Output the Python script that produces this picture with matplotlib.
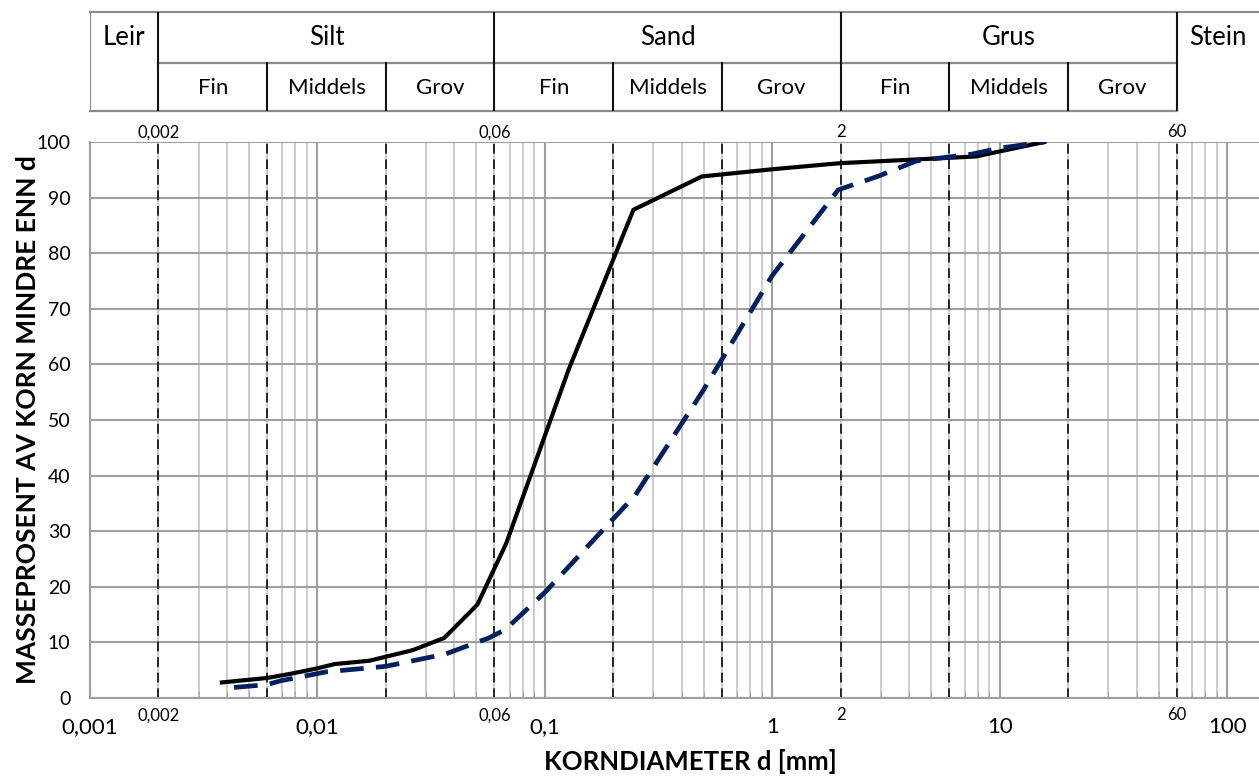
import matplotlib
matplotlib.use("Agg")
import matplotlib.pyplot as plt
import matplotlib.transforms as mtransforms
import numpy as np

plt.rcParams["font.family"] = ["Lato", "DejaVu Sans"]

# kornfordelingskurver (lest av figuren)
svart_d = [0.0038, 0.006, 0.0075, 0.0099, 0.0119, 0.0169, 0.0262, 0.0361, 0.0505,
           0.0676, 0.127, 0.245, 0.49, 1.0, 2.0, 4.0, 7.85, 15.7]
svart_p = [2.8, 3.6, 4.3, 5.3, 6.1, 6.7, 8.6, 10.8, 16.8,
           27.8, 59.0, 87.8, 93.8, 95.1, 96.2, 96.8, 97.4, 100]

blaa_d = [0.0043, 0.006, 0.0069, 0.0092, 0.0109, 0.0148, 0.02, 0.0365, 0.0567, 0.067,
          0.1, 0.25, 0.5, 1.0, 1.95, 2.9, 4.3, 7.5, 10.0, 15.7]
blaa_p = [1.9, 2.4, 3.1, 4.1, 4.7, 5.2, 5.7, 7.9, 10.8, 12.3,
          19.0, 36.5, 55.5, 76.0, 91.4, 93.8, 96.6, 97.8, 98.9, 100]

# akser og grenser
x_min, x_max = 0.001, 138
dekader = [0.001, 0.01, 0.1, 1, 10, 100]
dekade_tekst = ["0,001", "0,01", "0,1", "1", "10", "100"]
y_ticks = list(range(0, 101, 10))

grenser = [0.002, 0.006, 0.02, 0.06, 0.2, 0.6, 2, 6, 20, 60]
hovedgrenser = [0.002, 0.06, 2, 60]
hovedgrense_tekst = ["0,002", "0,06", "2", "60"]

# tabell over jordarter
hovedklasser = ["Leir", "Silt", "Sand", "Grus", "Stein"]
hovedklasse_fra = [0.001, 0.002, 0.06, 2, 60]
hovedklasse_til = [0.002, 0.06, 2, 60, x_max]
underklasser = ["Fin", "Middels", "Grov"]

W, H = 1259, 776
fig = plt.figure(figsize=(W / 100, H / 100), dpi=100)

def fx(px):
    return px / W

def fy(py):
    return 1 - py / H

ax = fig.add_axes([fx(90), fy(698), fx(W) - fx(90), fy(142) - fy(698)])
ax.set_xscale("log")
ax.set_xlim(x_min, x_max)
ax.set_ylim(0, 100)

ax.set_xticks(dekader)
ax.set_xticklabels(dekade_tekst)
ax.xaxis.set_minor_locator(matplotlib.ticker.LogLocator(base=10, subs=np.arange(2, 10)))
ax.xaxis.set_minor_formatter(matplotlib.ticker.NullFormatter())
ax.set_yticks(y_ticks)
ax.set_yticklabels([str(v) for v in y_ticks])

ax.grid(which="major", axis="both", color="#9f9f9f", lw=1.5, zorder=0)
ax.grid(which="minor", axis="x", color="#c3c3c3", lw=1.2, zorder=0)
ax.set_axisbelow(True)
ax.tick_params(axis="x", which="both", direction="in", length=5, color="#9f9f9f",
               labelsize=16, pad=14)
ax.tick_params(axis="y", which="both", length=0, labelsize=14, pad=14)
for s in ["top", "right"]:
    ax.spines[s].set_visible(False)
for s in ["left", "bottom"]:
    ax.spines[s].set_color("#9f9f9f")
    ax.spines[s].set_linewidth(1.5)

for g in grenser:
    ax.axvline(g, color="#262626", lw=1.4, ls=(0, (5, 3)), zorder=1)

trans = mtransforms.blended_transform_factory(ax.transData, ax.transAxes)
for g, t in zip(hovedgrenser, hovedgrense_tekst):
    ax.text(g, 1.003, t, transform=trans, ha="center", va="bottom", fontsize=12)
    ax.text(g, -0.017, t, transform=trans, ha="center", va="top", fontsize=12)

ax.plot(svart_d, svart_p, color="black", lw=3.0, zorder=3, solid_joinstyle="miter")
ax.plot(blaa_d, blaa_p, color="#002060", lw=3.4, ls=(0, (5.0, 2.6)), zorder=4)

fig.text(fx(690), fy(762), "KORNDIAMETER d [mm]", ha="center", va="center",
         fontsize=18.5, fontweight="bold")
fig.text(fx(28), fy(420), "MASSEPROSENT AV KORN MINDRE ENN d", ha="center",
         va="center", rotation=90, fontsize=19, fontweight="bold")

# tabell over kurven
tab = fig.add_axes([fx(90), fy(111), fx(W) - fx(90), fy(12) - fy(111)])
tab.set_xscale("log")
tab.set_xlim(x_min, x_max)
tab.set_ylim(0, 1)
tab.axis("off")
midt = 0.485
graa = "#8c8c8c"
tab.plot([x_min * 1.005, x_max], [1, 1], color=graa, lw=1.6, clip_on=False)
tab.plot([x_min * 1.005, 60], [0, 0], color=graa, lw=1.6, clip_on=False)
tab.plot([0.002, 60], [midt, midt], color=graa, lw=1.6)
tab.plot([x_min * 1.005, x_min * 1.005], [0, 1], color=graa, lw=1.6)
for g in hovedgrenser:
    tab.plot([g, g], [0, 1], color="#111111", lw=1.5)
for g in grenser:
    if g not in hovedgrenser:
        tab.plot([g, g], [0, midt], color="#111111", lw=1.5)

for navn, a, b in zip(hovedklasser, hovedklasse_fra, hovedklasse_til):
    xm = np.sqrt(a * b)
    tab.text(xm, 0.74, navn, ha="center", va="center", fontsize=18.5)
    if navn in ["Silt", "Sand", "Grus"]:
        kanter = [g for g in grenser if a <= g <= b]
        for sub, c, d in zip(underklasser, kanter[:-1], kanter[1:]):
            tab.text(np.sqrt(c * d), 0.23, sub, ha="center", va="center", fontsize=16)

fig.savefig("out.png", dpi=100)
